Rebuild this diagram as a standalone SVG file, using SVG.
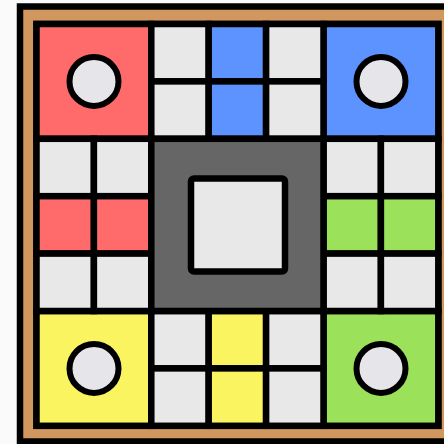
<svg xmlns="http://www.w3.org/2000/svg" width="444" height="444" viewBox="0 0 444 444">
<style>
.b{stroke:#000;stroke-width:6.5}
.c{fill:#E8E8E8}
.r{fill:#FF6A6A}
.u{fill:#5C93FF}
.g{fill:#9BE15A}
.y{fill:#FAF460}
.p{fill:#E6E6EA;stroke:#000;stroke-width:6}
</style>
<rect width="444" height="444" fill="#FAFAFA"/>
<g id="frame">
<rect x="20" y="6.5" width="436" height="435" fill="#D2965F" class="b"/>
<rect x="36.5" y="24" width="401.8" height="401.8" fill="#E8E8E8" class="b"/>
</g>
<g id="home-red"><rect x="36.5" y="24" width="114.8" height="114.8" class="b r"/><circle cx="94" cy="81.4" r="24.5" class="p"/></g>
<g id="home-blue"><rect x="323.5" y="24" width="114.8" height="114.8" class="b u"/><circle cx="381" cy="81.4" r="24.5" class="p"/></g>
<g id="home-yellow"><rect x="36.5" y="311" width="114.8" height="114.8" class="b y"/><circle cx="94" cy="368.4" r="24.5" class="p"/></g>
<g id="home-green"><rect x="323.5" y="311" width="114.8" height="114.8" class="b g"/><circle cx="381" cy="368.4" r="24.5" class="p"/></g>
<g id="arm-top">
<rect x="151.3" y="24" width="57.4" height="57.4" class="b c"/>
<rect x="208.7" y="24" width="57.4" height="57.4" class="b u"/>
<rect x="266.1" y="24" width="57.4" height="57.4" class="b c"/>
<rect x="151.3" y="81.4" width="57.4" height="57.4" class="b c"/>
<rect x="208.7" y="81.4" width="57.4" height="57.4" class="b u"/>
<rect x="266.1" y="81.4" width="57.4" height="57.4" class="b c"/>
</g>
<g id="arm-bottom">
<rect x="151.3" y="311" width="57.4" height="57.4" class="b c"/>
<rect x="208.7" y="311" width="57.4" height="57.4" class="b y"/>
<rect x="266.1" y="311" width="57.4" height="57.4" class="b c"/>
<rect x="151.3" y="368.4" width="57.4" height="57.4" class="b c"/>
<rect x="208.7" y="368.4" width="57.4" height="57.4" class="b y"/>
<rect x="266.1" y="368.4" width="57.4" height="57.4" class="b c"/>
</g>
<g id="arm-left">
<rect x="36.5" y="138.8" width="57.4" height="57.4" class="b c"/>
<rect x="93.9" y="138.8" width="57.4" height="57.4" class="b c"/>
<rect x="36.5" y="196.2" width="57.4" height="57.4" class="b r"/>
<rect x="93.9" y="196.2" width="57.4" height="57.4" class="b r"/>
<rect x="36.5" y="253.6" width="57.4" height="57.4" class="b c"/>
<rect x="93.9" y="253.6" width="57.4" height="57.4" class="b c"/>
</g>
<g id="arm-right">
<rect x="323.5" y="138.8" width="57.4" height="57.4" class="b c"/>
<rect x="380.9" y="138.8" width="57.4" height="57.4" class="b c"/>
<rect x="323.5" y="196.2" width="57.4" height="57.4" class="b g"/>
<rect x="380.9" y="196.2" width="57.4" height="57.4" class="b g"/>
<rect x="323.5" y="253.6" width="57.4" height="57.4" class="b c"/>
<rect x="380.9" y="253.6" width="57.4" height="57.4" class="b c"/>
</g>
<g id="center">
<rect x="151.3" y="138.8" width="172.2" height="172.2" fill="#666666" class="b"/>
<rect x="191" y="178.5" width="94" height="93" rx="3" class="b c"/>
</g>
</svg>
